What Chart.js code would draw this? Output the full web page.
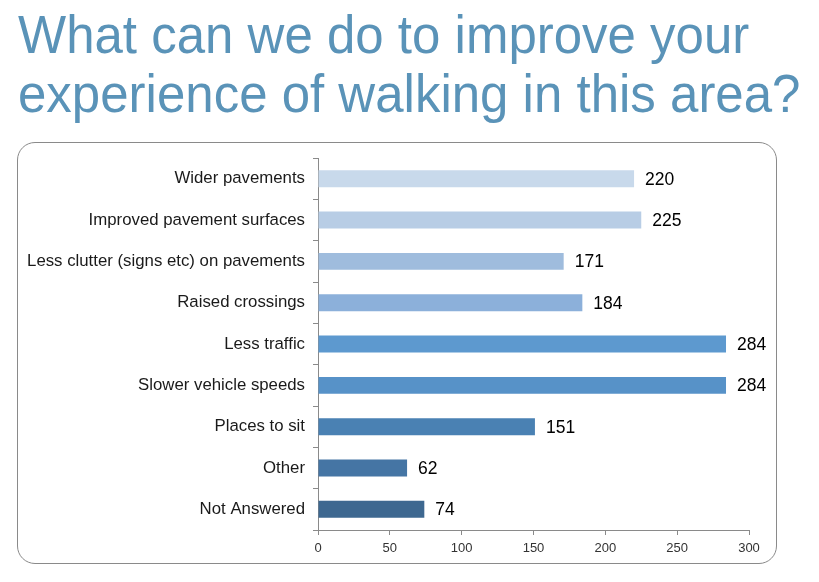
<!DOCTYPE html>
<html>
<head>
<meta charset="utf-8">
<script src="https://cdn.jsdelivr.net/npm/chart.js@4.4.0/dist/chart.umd.min.js"></script>
<style>
  html, body { margin: 0; padding: 0; background: #fff; }
  body { width: 819px; height: 582px; position: relative; overflow: hidden; }
  #title {
    position: absolute; left: 18px; top: 6px;
    font-family: "Liberation Sans", Arial, sans-serif;
    font-size: 51px; line-height: 56.7px; color: #5a93b8;
    white-space: nowrap;
    transform: scaleY(1.04); transform-origin: 0 0;
  }
  #box {
    position: absolute; left: 17px; top: 142px; width: 758px; height: 420px;
    border: 1.5px solid #8a8a8a; border-radius: 18px;
  }
  #wrap { position: absolute; left: 18px; top: 140px; width: 758px; height: 423px; }
</style>
</head>
<body>
<div id="title">What can we do to improve your<br>experience of walking in this area?</div>
<div id="box"></div>
<div id="wrap"><canvas id="c"></canvas></div>
<script>
var categories = [
  'Wider pavements',
  'Improved pavement surfaces',
  'Less clutter (signs etc) on pavements',
  'Raised crossings',
  'Less traffic',
  'Slower vehicle speeds',
  'Places to sit',
  'Other',
  'Not Answered'
];
var counts = [220, 225, 171, 184, 284, 284, 151, 62, 74];
var barColours = ['#c8d9eb', '#b8cde5', '#9fbcdd', '#8cb0da', '#5d99cf', '#5792c8', '#4a81b3', '#4575a4', '#3e6890'];
var xTicks = [0, 50, 100, 150, 200, 250, 300];

// numeros na ponta das barras
var valueLabels = {
  id: 'valueLabels',
  afterDatasetsDraw: function (chart) {
    var ctx = chart.ctx;
    var meta = chart.getDatasetMeta(0);
    ctx.save();
    ctx.font = '17.5px "Liberation Sans", Arial, sans-serif';
    ctx.fillStyle = '#000';
    ctx.textAlign = 'left';
    ctx.textBaseline = 'middle';
    meta.data.forEach(function (bar, i) {
      ctx.fillText(String(counts[i]), bar.x + 11, bar.y + 1);
    });
    ctx.restore();
  }
};

new Chart(document.getElementById('c'), {
  type: 'bar',
  data: {
    labels: categories,
    datasets: [{
      data: counts,
      backgroundColor: barColours,
      borderWidth: 0,
      barPercentage: 0.41,
      categoryPercentage: 1
    }]
  },
  options: {
    indexAxis: 'y',
    responsive: true,
    maintainAspectRatio: false,
    animation: false,
    layout: { padding: { top: 12, right: 27, left: 0, bottom: 0 } },
    plugins: { legend: { display: false }, tooltip: { enabled: false } },
    scales: {
      x: {
        min: 0, max: 300,
        afterBuildTicks: function (scale) {
          scale.ticks = xTicks.map(function (v) { return { value: v }; });
        },
        afterFit: function (scale) { scale.height = 33; },
        grid: { drawOnChartArea: false, drawTicks: true, tickLength: 5, color: '#8a8a8a' },
        border: { color: '#8a8a8a', width: 1 },
        ticks: {
          color: '#333', padding: 6,
          font: { family: '"Liberation Sans", Arial, sans-serif', size: 13 },
          maxRotation: 0
        }
      },
      y: {
        afterFit: function (scale) { scale.width = 300; },
        grid: { drawOnChartArea: false, drawTicks: true, tickLength: 5, color: '#8a8a8a', offset: true },
        border: { color: '#8a8a8a', width: 1 },
        ticks: {
          color: '#1a1a1a', padding: 8,
          font: { family: '"Liberation Sans", Arial, sans-serif', size: 16.8 }
        }
      }
    }
  },
  plugins: [valueLabels]
});
</script>
</body>
</html>
